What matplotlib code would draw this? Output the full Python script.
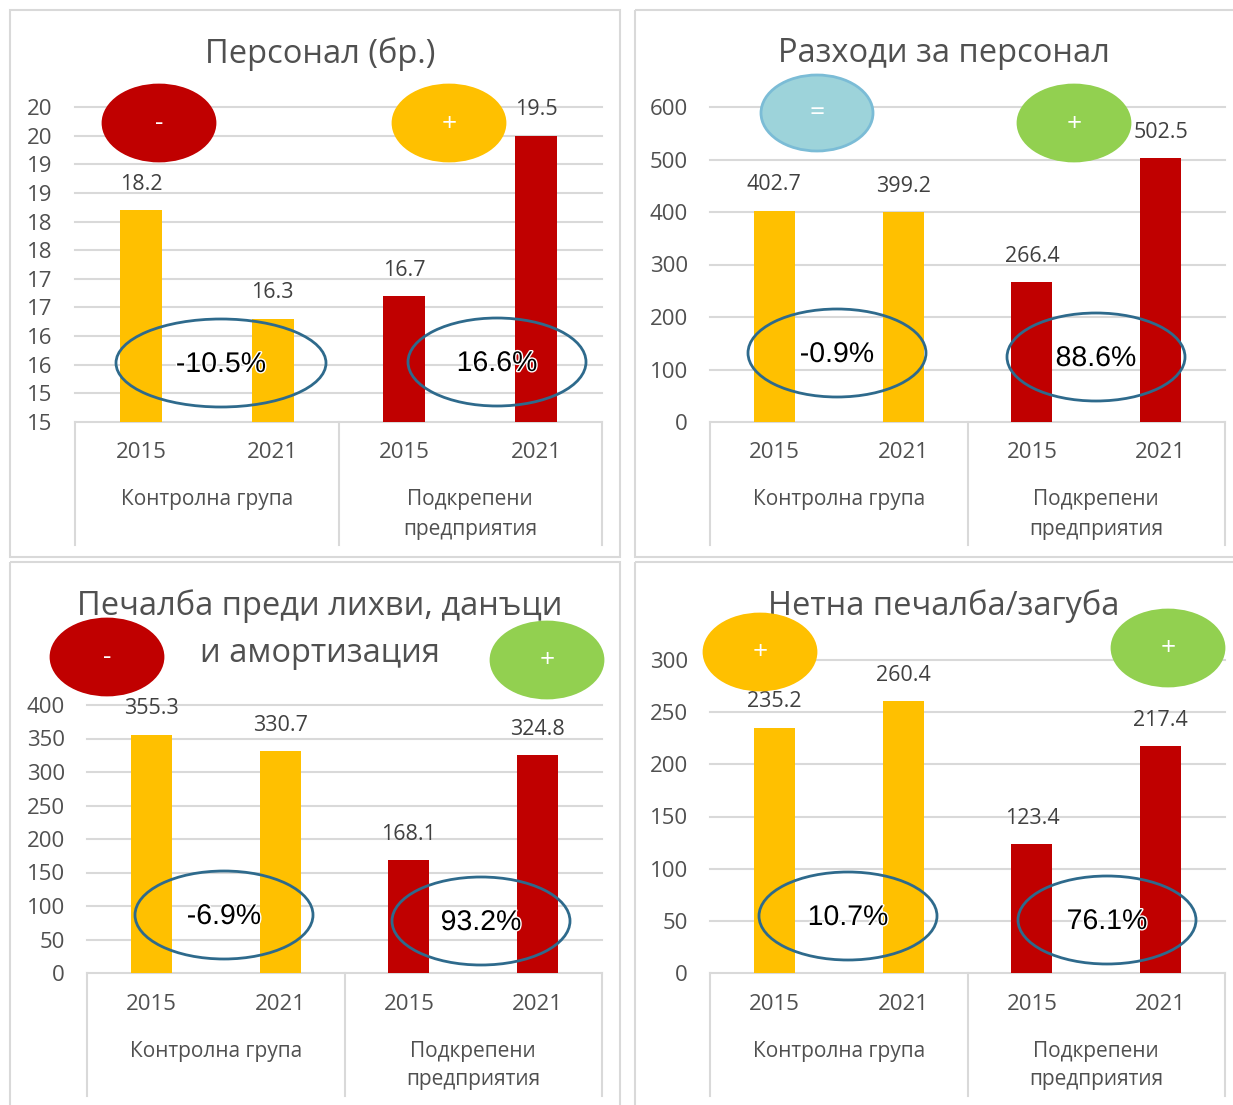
import matplotlib
matplotlib.use("Agg")
import matplotlib.pyplot as plt
from matplotlib.patches import Ellipse, Rectangle
from matplotlib import transforms
import matplotlib.patheffects as pe

W, H = 1233, 1105
FONT = ['Open Sans', 'DejaVu Sans']
plt.rcParams['font.family'] = FONT

# --- data ---
years = ['2015', '2021', '2015', '2021']
groups = ['Контролна група', 'Подкрепени\nпредприятия']
bar_colors = ['#FFC000', '#FFC000', '#C00000', '#C00000']

personnel = [18.2, 16.3, 16.7, 19.5]
personnel_ticks = [14.5, 15, 15.5, 16, 16.5, 17, 17.5, 18, 18.5, 19, 19.5, 20]
personnel_ticklabels = ['15', '15', '16', '16', '17', '17', '18', '18', '19', '19', '20', '20']

staff_costs = [402.7, 399.2, 266.4, 502.5]
staff_ticks = [0, 100, 200, 300, 400, 500, 600]

ebitda = [355.3, 330.7, 168.1, 324.8]
ebitda_ticks = [0, 50, 100, 150, 200, 250, 300, 350, 400]

net_profit = [235.2, 260.4, 123.4, 217.4]
net_ticks = [0, 50, 100, 150, 200, 250, 300]

titles = ['Персонал (бр.)', 'Разходи за персонал',
          'Печалба преди лихви, данъци\nи амортизация', 'Нетна печалба/загуба']
changes = [['-10.5%', '16.6%'], ['-0.9%', '88.6%'], ['-6.9%', '93.2%'], ['10.7%', '76.1%']]
signs = [['-', '+'], ['=', '+'], ['-', '+'], ['+', '+']]
sign_colors = [['#C00000', '#FFC000'], ['#9DD3DA', '#92D050'],
               ['#C00000', '#92D050'], ['#FFC000', '#92D050']]

# --- layout (pixels) ---
panels = [
    dict(values=personnel, ticks=personnel_ticks, labels=personnel_ticklabels,
         plot=(75, 107, 602, 422), border=(10, 10, 620, 557), title_xy=(320, [54]),
         sign_xy=[(159, 123), (449, 123)], ring_xy=[(221, 363, 210), (497, 362, 178)]),
    dict(values=staff_costs, ticks=staff_ticks, labels=None,
         plot=(710, 107, 1225, 422), border=(635, 10, 1240, 557), title_xy=(944, [54]),
         sign_xy=[(817, 113), (1074, 123)], ring_xy=[(837, 353, 178), (1096, 357, 178)]),
    dict(values=ebitda, ticks=ebitda_ticks, labels=None,
         plot=(87, 705, 602, 973), border=(10, 562, 620, 1110), title_xy=(320, [606, 653]),
         sign_xy=[(107, 657), (547, 660)], ring_xy=[(224, 915, 178), (481, 921, 178)]),
    dict(values=net_profit, ticks=net_ticks, labels=None,
         plot=(710, 660, 1225, 973), border=(635, 562, 1240, 1110), title_xy=(944, [606]),
         sign_xy=[(760, 652), (1168, 648)], ring_xy=[(848, 916, 178), (1107, 920, 178)]),
]

fig = plt.figure(figsize=(W / 100, H / 100), dpi=100)
ov = fig.add_axes([0, 0, 1, 1], zorder=10)
ov.set_xlim(0, W)
ov.set_ylim(H, 0)
ov.axis('off')
ov.patch.set_alpha(0)

grey = '#505050'
grid_c = '#D9D9D9'

for k, p in enumerate(panels):
    bx0, by0, bx1, by1 = p['border']
    ov.add_patch(Rectangle((bx0, by0), bx1 - bx0, by1 - by0, fill=False,
                           ec='#D9D9D9', lw=1.5))

    x0, y0, x1, y1 = p['plot']
    ax = fig.add_axes([x0 / W, 1 - y1 / H, (x1 - x0) / W, (y1 - y0) / H])
    ax.bar(range(4), p['values'], width=0.32, color=bar_colors, zorder=3)
    ax.set_xlim(-0.5, 3.5)
    ax.set_ylim(p['ticks'][0], p['ticks'][-1])
    ax.set_yticks(p['ticks'])
    if p['labels'] is not None:
        ax.set_yticklabels(p['labels'])
    ax.tick_params(axis='y', length=0, pad=16, labelsize=16, labelcolor=grey)
    ax.set_xticks([])
    for s in ax.spines.values():
        s.set_visible(False)
    ax.set_axisbelow(True)
    ax.yaxis.grid(True, color=grid_c, lw=1.5)
    for gl in ax.get_ygridlines():
        gl.set_clip_on(False)

    # value labels
    for i, v in enumerate(p['values']):
        ax.annotate(f'{v:.1f}', (i, v), xytext=(0, 26), textcoords='offset pixels',
                    ha='center', va='center', fontsize=15.5, color='#404040')

    # category axis (two levels)
    tr = transforms.blended_transform_factory(ax.transData, ov.transData)
    for xs in (-0.5, 1.5, 3.5):
        ax.plot([xs, xs], [y1, y1 + 123], color=grid_c, lw=1.5, transform=tr,
                clip_on=False)
    for i, yr in enumerate(years):
        ax.text(i, y1 + 31, yr, transform=tr, ha='center', va='center',
                fontsize=16, color=grey)
    for j, g in enumerate(groups):
        for m, line in enumerate(g.split('\n')):
            ax.text(0.5 + 2 * j, y1 + 78 + 29 * m, line, transform=tr, ha='center',
                    va='center', fontsize=15, color=grey)

    # title
    tx, tys = p['title_xy']
    for line, ty in zip(titles[k].split('\n'), tys):
        ov.text(tx, ty, line, ha='center', va='center', fontsize=23.5, color=grey)

    # coloured sign ellipses
    for j, (sx, sy) in enumerate(p['sign_xy']):
        fc = sign_colors[k][j]
        ec = '#7BBCD6' if fc == '#9DD3DA' else fc
        ov.add_patch(Ellipse((sx, sy), 112, 76, fc=fc, ec=ec, lw=2, zorder=4))
        ov.text(sx, sy + 1, signs[k][j], ha='center', va='center', color='white',
                fontsize=19, zorder=5)

    # change rings
    for j, (cx, cy, cw) in enumerate(p['ring_xy']):
        ov.add_patch(Ellipse((cx, cy), cw, 88, fill=False, ec='#2E6A8C', lw=2,
                             zorder=4))
        ov.text(cx, cy + 2, changes[k][j], ha='center', va='center', color='black',
                fontsize=20.5, family=['Liberation Sans', 'DejaVu Sans'], zorder=5,
                path_effects=[pe.withStroke(linewidth=2, foreground='white')])

fig.savefig('out.png', dpi=100)
